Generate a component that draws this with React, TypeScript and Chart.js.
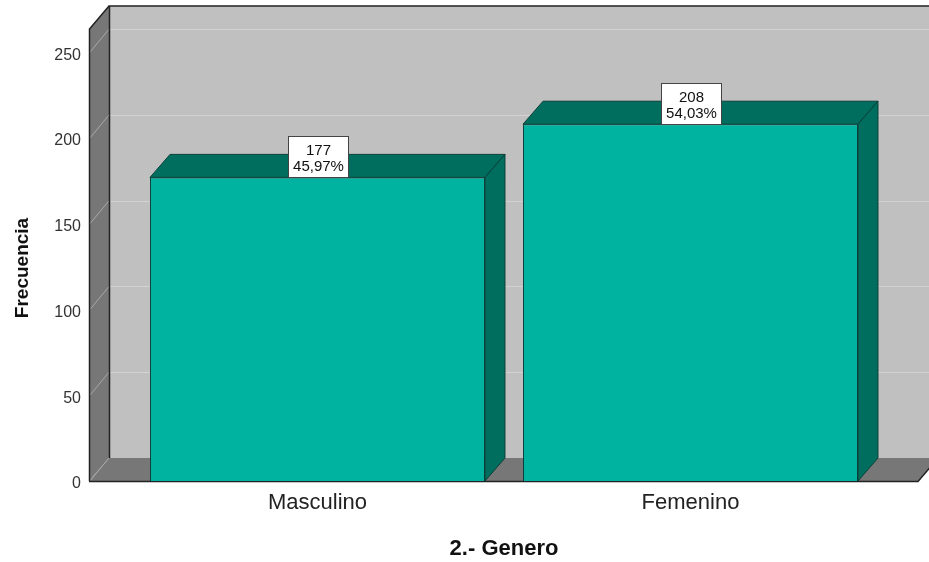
import React, { useEffect, useRef } from "react";
import { Chart, registerables } from "chart.js";

Chart.register(...registerables);

// ---- data ----
const categories: string[] = ["Masculino", "Femenino"];
const frequencies: number[] = [177, 208];
const yTickValues: number[] = [0, 50, 100, 150, 200, 250];
const xAxisTitle = "2.- Genero";
const yAxisTitle = "Frecuencia";

// ---- styling / geometry constants ----
const FONT = "'Liberation Sans', Arial, sans-serif";
const DX = 20;
const DY = -23;
const WALL_GAP_LEFT = 42;
const WALL_GAP_RIGHT = 41;
const BAR_FRONT = "#00B3A0";
const BAR_DARK = "#006E5F";
const BAR_EDGE = "#0B3F38";
const BACK_WALL = "#C0C0C0";
const SIDE_WALL = "#777777";
const EDGE = "#222222";

const total = frequencies.reduce((a, b) => a + b, 0);
const percentLabels = frequencies.map(
  (v) => ((v / total) * 100).toFixed(2).replace(".", ",") + "%"
);

const crisp = (v: number) => Math.round(v) + 0.5;

const threeDPlugin = {
  id: "threeD",
  beforeDatasetsDraw(chart: any) {
    const { ctx, chartArea: ca, scales } = chart;
    const y = scales.y;
    const fl = ca.left - WALL_GAP_LEFT;
    const fr = ca.right + WALL_GAP_RIGHT;
    const top = ca.top;
    const bot = ca.bottom;
    ctx.save();
    // back wall
    ctx.fillStyle = BACK_WALL;
    ctx.fillRect(fl + DX, top + DY, fr - fl + 60, bot - top);
    // back wall grid lines
    ctx.strokeStyle = "#D2D2D2";
    ctx.lineWidth = 1;
    for (const v of yTickValues) {
      if (v === 0) continue;
      const py = crisp(y.getPixelForValue(v) + DY);
      ctx.beginPath();
      ctx.moveTo(fl + DX, py);
      ctx.lineTo(fr + DX + 40, py);
      ctx.stroke();
    }
    // left wall
    ctx.fillStyle = SIDE_WALL;
    ctx.beginPath();
    ctx.moveTo(fl, top);
    ctx.lineTo(fl + DX, top + DY);
    ctx.lineTo(fl + DX, bot + DY);
    ctx.lineTo(fl, bot);
    ctx.closePath();
    ctx.fill();
    // floor
    ctx.beginPath();
    ctx.moveTo(fl, bot);
    ctx.lineTo(fl + DX, bot + DY);
    ctx.lineTo(fr + DX, bot + DY);
    ctx.lineTo(fr, bot);
    ctx.closePath();
    ctx.fill();
    // left wall grid lines (diagonal)
    ctx.strokeStyle = "#A8A8A8";
    for (const v of yTickValues) {
      const py = y.getPixelForValue(v);
      ctx.beginPath();
      ctx.moveTo(fl + 1, py);
      ctx.lineTo(fl + DX, py + DY);
      ctx.stroke();
    }
    // edges
    ctx.strokeStyle = EDGE;
    ctx.lineWidth = 1.5;
    ctx.beginPath();
    ctx.moveTo(crisp(fl), bot);
    ctx.lineTo(crisp(fl), top);
    ctx.lineTo(fl + DX, top + DY);
    ctx.lineTo(fr + DX + 60, top + DY);
    ctx.stroke();
    ctx.beginPath();
    ctx.moveTo(crisp(fl + DX), top + DY);
    ctx.lineTo(crisp(fl + DX), bot + DY);
    ctx.stroke();
    ctx.beginPath();
    ctx.moveTo(fl, crisp(bot));
    ctx.lineTo(fr, crisp(bot));
    ctx.lineTo(fr + DX, bot + DY);
    ctx.stroke();
    ctx.restore();
  },
  afterDatasetsDraw(chart: any) {
    const { ctx } = chart;
    const meta = chart.getDatasetMeta(0);
    ctx.save();
    meta.data.forEach((bar: any) => {
      const { x, y, base, width } = bar.getProps(["x", "y", "base", "width"], true);
      const x0 = x - width / 2;
      const x1 = x + width / 2;
      ctx.fillStyle = BAR_DARK;
      ctx.strokeStyle = BAR_EDGE;
      ctx.lineWidth = 1;
      // top face
      ctx.beginPath();
      ctx.moveTo(x0, y);
      ctx.lineTo(x0 + DX, y + DY);
      ctx.lineTo(x1 + DX, y + DY);
      ctx.lineTo(x1, y);
      ctx.closePath();
      ctx.fill();
      ctx.stroke();
      // side face
      ctx.beginPath();
      ctx.moveTo(x1, y);
      ctx.lineTo(x1 + DX, y + DY);
      ctx.lineTo(x1 + DX, base + DY);
      ctx.lineTo(x1, base);
      ctx.closePath();
      ctx.fill();
      ctx.stroke();
    });
    // value labels
    meta.data.forEach((bar: any, i: number) => {
      const { x, y } = bar.getProps(["x", "y"], true);
      const w = 60;
      const h = 41;
      const bx = Math.round(x - w / 2) + 0.5;
      const by = Math.round(y - h) + 0.5;
      ctx.fillStyle = "#FFFFFF";
      ctx.fillRect(bx, by, w, h);
      ctx.strokeStyle = "#444444";
      ctx.lineWidth = 1;
      ctx.strokeRect(bx, by, w, h);
      ctx.fillStyle = "#111111";
      ctx.font = `15px ${FONT}`;
      ctx.textAlign = "center";
      ctx.textBaseline = "middle";
      ctx.fillText(String(frequencies[i]), bx + w / 2, by + 14);
      ctx.fillText(percentLabels[i], bx + w / 2, by + 30);
    });
    ctx.restore();
  },
  afterDraw(chart: any) {
    const { ctx, chartArea: ca } = chart;
    ctx.save();
    ctx.translate(23, (ca.top + ca.bottom) / 2 + 13);
    ctx.rotate(-Math.PI / 2);
    ctx.font = `bold 19px ${FONT}`;
    ctx.fillStyle = "#111111";
    ctx.textAlign = "center";
    ctx.textBaseline = "middle";
    ctx.fillText(yAxisTitle, 0, 0);
    ctx.restore();
  },
};

export default function App() {
  const canvasRef = useRef<HTMLCanvasElement | null>(null);

  useEffect(() => {
    const canvas = canvasRef.current;
    if (!canvas) return;
    const chart = new Chart(canvas, {
      type: "bar",
      data: {
        labels: categories,
        datasets: [
          {
            data: frequencies,
            backgroundColor: BAR_FRONT,
            borderColor: BAR_EDGE,
            borderWidth: 1,
            categoryPercentage: 1,
            barPercentage: 0.898,
          },
        ],
      },
      options: {
        animation: false,
        responsive: false,
        devicePixelRatio: 1,
        layout: { padding: { top: 29, right: 52, left: 0, bottom: 0 } },
        plugins: {
          legend: { display: false },
          tooltip: { enabled: false },
        },
        scales: {
          x: {
            grid: { display: false, drawTicks: false },
            border: { display: false },
            ticks: {
              color: "#222222",
              padding: 9,
              font: { family: FONT, size: 22 },
            },
            title: {
              display: true,
              text: xAxisTitle,
              color: "#111111",
              font: { family: FONT, size: 22, weight: "bold" },
              padding: { top: 0, bottom: 0 },
            },
            afterFit: (scale: any) => {
              scale.height = 81;
            },
          },
          y: {
            min: 0,
            max: 263.5,
            grid: { display: false, drawTicks: true, tickLength: 42 },
            border: { display: false },
            ticks: {
              color: "#333333",
              padding: 8,
              labelOffset: 3,
              font: { family: FONT, size: 16 },
            },
            afterBuildTicks: (scale: any) => {
              scale.ticks = yTickValues.map((v) => ({ value: v }));
            },
            title: { display: false },
            afterFit: (scale: any) => {
              scale.width = 131;
            },
          },
        },
      },
      plugins: [threeDPlugin],
    });
    return () => chart.destroy();
  }, []);

  return (
    <div style={{ position: "absolute", left: 0, top: 0, width: 929, height: 562 }}>
      <canvas ref={canvasRef} width={929} height={562} />
    </div>
  );
}
